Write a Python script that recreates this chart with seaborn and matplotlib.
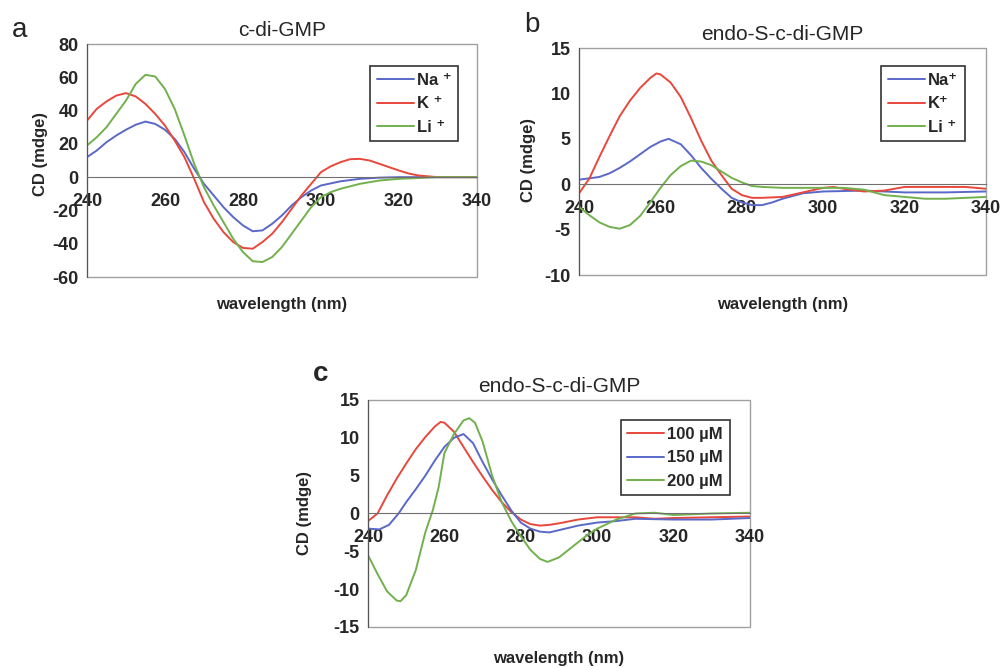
import pandas as pd
import seaborn as sns
import matplotlib.pyplot as plt
from matplotlib.patches import Rectangle

# ---- data (wavelength in nm, CD in mdeg) ----
# panel a: c-di-GMP
a_na_x = [240, 242.5, 245, 247.5, 250, 252.5, 255, 257.5, 260, 262.5, 265, 267.5, 270, 272.5, 275, 277.5,
          280, 282.5, 285, 287.5, 290, 292.5, 295, 297.5, 300, 305, 310, 315, 320, 340]
a_na_y = [12, 16, 21, 25, 28.5, 31.5, 33.4, 32, 28.5, 23, 15, 5, -4, -11, -18, -24,
          -29, -32.5, -32, -28, -23, -17, -12, -8, -5, -2.5, -1, -0.3, 0, 0]
a_k_x = [240, 242.5, 245, 247.5, 250, 252.5, 255, 257.5, 260, 262.5, 265, 267.5, 270, 272.5, 275, 277.5,
         280, 282.5, 285, 287.5, 290, 292.5, 295, 297.5, 300, 302.5, 305, 307.5, 310, 312.5, 315, 317.5,
         320, 322.5, 325, 330, 340]
a_k_y = [34, 41, 45.5, 49, 50.5, 48.5, 44, 38, 31, 22, 12, -1, -15, -25, -33, -39,
         -42.5, -43, -39, -34, -27, -19, -11, -4, 3, 6.5, 9, 10.8, 11, 10, 8, 6,
         4, 2.2, 1, 0, 0]
a_li_x = [240, 242.5, 245, 247.5, 250, 252.5, 255, 257.5, 260, 262.5, 265, 267.5, 270, 272.5, 275, 277.5,
          280, 282.5, 285, 287.5, 290, 292.5, 295, 297.5, 300, 302.5, 305, 310, 315, 320, 330, 340]
a_li_y = [19, 24, 30, 38, 46, 56, 61.5, 60.5, 53, 41, 25, 8, -6, -17, -27, -37,
          -45, -50.5, -51, -48, -42, -34, -26, -18, -12, -9, -7, -4, -2, -1, 0, 0]

# panel b: endo-S-c-di-GMP, cations
b_na_x = [240, 245, 247.5, 250, 252.5, 255, 257.5, 260, 262, 265, 267.5, 270, 272.5, 275, 277.5,
          280, 282.5, 285, 287.5, 290, 295, 300, 310, 315, 320, 330, 340]
b_na_y = [0.5, 0.8, 1.2, 1.8, 2.5, 3.3, 4.1, 4.7, 5.0, 4.4, 3.2, 1.8, 0.6, -0.5, -1.5,
          -2.0, -2.3, -2.3, -2.0, -1.6, -1.0, -0.8, -0.7, -0.8, -0.9, -0.9, -0.8]
b_k_x = [240, 242.5, 245, 247.5, 250, 252.5, 255, 257.5, 259, 260, 262.5, 265, 267.5, 270, 272.5, 275,
         277.5, 280, 282.5, 285, 290, 295, 300, 302.5, 305, 310, 315, 320, 330, 335, 340]
b_k_y = [-1.0, 0.6, 3.0, 5.3, 7.5, 9.2, 10.6, 11.7, 12.2, 12.1, 11.2, 9.6, 7.3, 4.8, 2.6, 1.0,
         -0.5, -1.2, -1.5, -1.5, -1.4, -0.9, -0.4, -0.3, -0.5, -0.8, -0.7, -0.3, -0.3, -0.3, -0.5]
b_li_x = [240, 242.5, 245, 247.5, 250, 252.5, 255, 257.5, 260, 262.5, 265, 267.5, 270, 272.5, 275, 277.5,
          280, 282.5, 285, 290, 300, 305, 310, 315, 320, 325, 330, 335, 340]
b_li_y = [-2.5, -3.4, -4.2, -4.7, -4.9, -4.5, -3.5, -2.0, -0.4, 1.0, 2.0, 2.6, 2.5, 2.1, 1.4, 0.7,
          0.2, -0.2, -0.3, -0.4, -0.4, -0.4, -0.6, -1.2, -1.4, -1.6, -1.6, -1.5, -1.4]

# panel c: endo-S-c-di-GMP, concentrations
c_100_x = [240, 242.5, 245, 247.5, 250, 252.5, 255, 257.5, 259, 260, 262.5, 265, 267.5, 270, 272.5, 275,
           277.5, 280, 282.5, 285, 287.5, 290, 295, 300, 310, 315, 320, 330, 340]
c_100_y = [-1.0, 0, 2.4, 4.6, 6.6, 8.5, 10.1, 11.5, 12.1, 12.0, 10.8, 8.8, 6.8, 4.9, 3.1, 1.5,
           0.2, -0.8, -1.4, -1.6, -1.5, -1.3, -0.8, -0.5, -0.5, -0.7, -0.6, -0.5, -0.4]
c_150_x = [240, 243, 245.5, 248, 250, 252.5, 255, 257.5, 260, 262.5, 265, 267.5, 270, 272.5, 275, 277.5,
           280, 282.5, 285, 287.5, 290, 295, 300, 305, 310, 320, 330, 340]
c_150_y = [-2.0, -2.1, -1.5, 0, 1.5, 3.2, 5.0, 7.0, 8.8, 10.0, 10.5, 9.3, 6.8, 4.5, 2.4, 0.4,
           -1.2, -2.0, -2.4, -2.5, -2.2, -1.6, -1.2, -1.0, -0.7, -0.8, -0.8, -0.6]
c_200_x = [240, 242.5, 245, 247.5, 248.5, 250, 252.5, 255, 257, 258.5, 260, 262.5, 265, 266.5, 268, 270,
           272.5, 275, 277.5, 280, 282.5, 285, 287, 290, 292.5, 295, 297.5, 300, 305, 310, 315, 320, 330, 340]
c_200_y = [-5.5, -8.0, -10.3, -11.5, -11.6, -10.8, -7.5, -2.5, 0.5, 3.5, 8.0, 10.5, 12.3, 12.6, 12.0, 9.5,
           5.0, 1.5, -1.0, -3.0, -4.8, -6.0, -6.4, -5.8, -4.8, -3.8, -2.8, -2.0, -0.8, 0, 0.1, -0.2, 0, 0.1]

ion_labels_a = ['Na \u207a', 'K \u207a', 'Li \u207a']
ion_labels_b = ['Na\u207a', 'K\u207a', 'Li \u207a']
conc_labels = ['100 \u00b5M', '150 \u00b5M', '200 \u00b5M']
x_ticks = [240, 260, 280, 300, 320, 340]

blue, red, green = '#5a68c8', '#e8483c', '#72b04e'


def long_df(xs, ys, labels):
    parts = []
    for x, y, lab in zip(xs, ys, labels):
        parts.append(pd.DataFrame({'wavelength': x, 'cd': y, 'series': lab}))
    return pd.concat(parts, ignore_index=True)


df_a = long_df([a_na_x, a_k_x, a_li_x], [a_na_y, a_k_y, a_li_y], ion_labels_a)
df_b = long_df([b_na_x, b_k_x, b_li_x], [b_na_y, b_k_y, b_li_y], ion_labels_b)
df_c = long_df([c_100_x, c_150_x, c_200_x], [c_100_y, c_150_y, c_200_y], conc_labels)

sns.set_style("white")
plt.rcParams['font.family'] = ['Liberation Sans', 'DejaVu Sans']
plt.rcParams['axes.unicode_minus'] = False

fig = plt.figure(figsize=(10.03, 6.68), dpi=100)

panels = [
    # letter, title, df, palette, ylim, yticks, axes rect, legend anchor, label offsets, letter pos
    ('a', 'c-di-GMP', df_a, [blue, red, green], (-60, 80), range(-60, 81, 20),
     [0.0867, 0.5853, 0.3888, 0.3488], (0.974, 0.94), (-0.12, 0.53, -0.12), (0.012, 0.955)),
    ('b', 'endo-S-c-di-GMP', df_b, [blue, red, green], (-10, 15), range(-10, 16, 5),
     [0.5773, 0.5883, 0.4058, 0.3398], (0.968, 0.956), (-0.125, 0.507, -0.132), (0.523, 0.962)),
    ('c', 'endo-S-c-di-GMP', df_c, [red, blue, green], (-15, 15), range(-15, 16, 5),
     [0.3669, 0.0614, 0.3809, 0.3398], (0.969, 0.947), (-0.165, 0.50, -0.137), (0.312, 0.44)),
]

for letter, title, df, pal, ylim, yticks, rect, leg_anchor, offs, letter_pos in panels:
    ax = fig.add_axes(rect)
    sns.lineplot(data=df, x='wavelength', y='cd', hue='series', palette=pal,
                 linewidth=1.4, ax=ax, legend=True)
    ax.set_xlim(240, 340)
    ax.set_ylim(*ylim)
    ax.set_yticks(list(yticks))
    ax.set_xticks(x_ticks)

    # Excel-style: x axis crosses at zero, grey frame around plot area
    for s in ['top', 'right']:
        ax.spines[s].set_visible(False)
    ax.spines['bottom'].set_position(('data', 0))
    ax.spines['bottom'].set_color('#707070')
    ax.spines['left'].set_color('#555555')
    ax.add_patch(Rectangle((0, 0), 1, 1, transform=ax.transAxes, fill=False,
                           edgecolor='#a0a0a0', linewidth=1.0, clip_on=False, zorder=0))
    ax.tick_params(axis='y', direction='out', length=4, width=1, color='#555555',
                   labelsize=13, pad=2)
    ax.tick_params(axis='x', direction='inout', length=5, width=1, color='#707070',
                   labelsize=13, pad=9)
    for t in ax.get_xticklabels() + ax.get_yticklabels():
        t.set_fontweight('bold')

    ax.set_xlabel('')
    ax.set_ylabel('')
    ax.text(offs[0], offs[1], 'CD (mdge)', transform=ax.transAxes, rotation=90,
            ha='center', va='center', fontsize=12, fontweight='bold')
    ax.text(0.5, offs[2], 'wavelength (nm)', transform=ax.transAxes,
            ha='center', va='center', fontsize=12, fontweight='bold')
    ax.set_title(title, fontsize=15, pad=6)
    fig.text(letter_pos[0], letter_pos[1], letter, fontsize=20,
             fontweight='bold' if letter == 'c' else 'normal', ha='left', va='center')

    handles, labels = ax.get_legend_handles_labels()
    leg = ax.legend(handles, labels, loc='upper right', bbox_to_anchor=leg_anchor,
                    fancybox=False, framealpha=1, edgecolor='#333333', fontsize=12,
                    handlelength=2.2, handletextpad=0.2, borderpad=0.4, labelspacing=0.5,
                    prop={'weight': 'bold', 'size': 12})
    leg.get_frame().set_linewidth(1.2)

plt.savefig('out.png', dpi=100)
plt.close()
